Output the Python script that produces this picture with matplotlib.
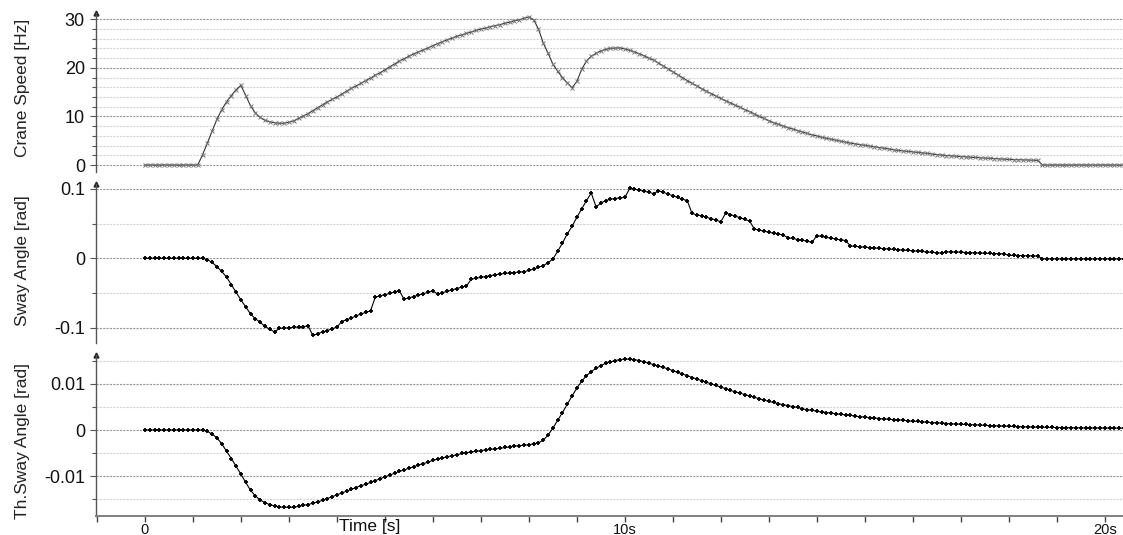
import numpy as np
import matplotlib
matplotlib.use("Agg")
import matplotlib.pyplot as plt
from matplotlib.ticker import MultipleLocator, FixedLocator, FuncFormatter

plt.rcParams["font.family"] = ["Liberation Sans", "DejaVu Sans"]

# sample step of the logged signals [s]
dt = 0.1

# Crane Speed [Hz], one row per second
crane_speed = [
    0, 0, 0, 0, 0, 0, 0, 0, 0, 0,
    0, 0, 2.1, 4.5, 7.0, 9.4, 11.4, 13.0, 14.3, 15.5,
    16.4, 14.3, 12.2, 10.7, 9.8, 9.2, 8.9, 8.7, 8.6, 8.6,
    8.8, 9.1, 9.6, 10.1, 10.6, 11.2, 11.8, 12.4, 13.0, 13.5,
    14.0, 14.6, 15.2, 15.8, 16.3, 16.8, 17.4, 17.9, 18.5, 19.0,
    19.6, 20.2, 20.8, 21.4, 21.9, 22.4, 22.9, 23.3, 23.7, 24.1,
    24.6, 25.0, 25.4, 25.8, 26.1, 26.5, 26.8, 27.1, 27.4, 27.7,
    28.0, 28.2, 28.5, 28.7, 28.9, 29.2, 29.4, 29.7, 29.9, 30.2,
    30.5, 29.9, 28.0, 25.1, 23.0, 20.8, 19.3, 18.0, 16.9, 15.9,
    17.2, 19.7, 21.4, 22.4, 23.0, 23.5, 23.8, 24.0, 24.1, 24.1,
    23.9, 23.6, 23.3, 22.9, 22.5, 22.0, 21.6, 21.0, 20.4, 19.8,
    19.2, 18.6, 18.0, 17.4, 16.8, 16.3, 15.7, 15.2, 14.7, 14.2,
    13.7, 13.2, 12.8, 12.3, 11.9, 11.4, 11.0, 10.5, 10.0, 9.6,
    9.1, 8.7, 8.4, 8.0, 7.7, 7.4, 7.1, 6.8, 6.5, 6.2,
    6.0, 5.7, 5.5, 5.3, 5.1, 4.9, 4.7, 4.5, 4.35, 4.2,
    4.05, 3.9, 3.75, 3.6, 3.45, 3.3, 3.15, 3.0, 2.9, 2.8,
    2.7, 2.6, 2.5, 2.4, 2.25, 2.15, 2.05, 1.95, 1.9, 1.8,
    1.75, 1.68, 1.6, 1.55, 1.5, 1.45, 1.38, 1.32, 1.26, 1.2,
    1.15, 1.12, 1.08, 1.05, 1.02, 0.99, 0.96, 0, 0, 0,
    0, 0, 0, 0, 0, 0, 0, 0, 0, 0,
    0, 0, 0, 0, 0,
]

# Sway Angle [mrad]
sway_mrad = [
    0, 0, 0, 0, 0, 0, 0, 0, 0, 0,
    0, 0, 0, -2, -6, -12, -19, -27, -38, -49,
    -60, -70, -80, -87, -92, -98, -102, -106, -101, -100.5,
    -100, -99.5, -99, -98.2, -97.4, -111, -108.5, -106, -104, -101.5,
    -99, -91, -88.5, -86, -83, -80, -78, -75.5, -56, -54,
    -52.5, -50.5, -48.5, -46.5, -59, -57, -55, -53, -51, -49,
    -47, -51.5, -49.5, -47.5, -45.5, -43.5, -41.5, -39.8, -30, -28.7,
    -27.5, -26.3, -25, -23.8, -22.6, -21.8, -21, -20.5, -19.8, -19.3,
    -17.5, -15.5, -13, -10.5, -6.5, -1, 10, 22, 35, 46,
    59, 71, 83, 94, 74, 79.5, 83, 85, 86, 87,
    87.5, 100.5, 99.5, 98, 96.5, 95, 93, 97, 95, 92.5,
    90, 87.5, 85, 83, 64.5, 62.5, 61, 59, 57, 55,
    52.5, 65, 63, 60.5, 58.5, 56, 53.5, 42, 40.5, 39,
    37.5, 36, 35, 33.5, 29.5, 28.5, 27, 26, 24.5, 23,
    32.5, 31.5, 30, 29, 27.5, 26.5, 25.5, 17.7, 17.1, 16.5,
    15.9, 15.3, 14.8, 14.3, 13.8, 13.3, 12.8, 12.3, 11.8, 11.3,
    10.8, 10.3, 9.8, 9.0, 8.5, 8.0, 7.5, 9.5, 9.2, 8.9,
    8.6, 8.3, 8.0, 7.8, 7.5, 7.2, 7.0, 6.7, 6.5, 6.3,
    4.3, 4.1, 3.9, 3.7, 3.5, 3.4, 3.3, -0.8, -0.8, -0.8,
    -0.8, -0.8, -0.8, -0.8, -0.8, -0.8, -0.8, -0.8, -0.8, -0.8,
    -0.8, -0.8, -0.8, -0.8, -0.8,
]

# Th. Sway Angle [mrad]
th_sway_mrad = [
    0, 0, 0, 0, 0, 0, 0, 0, 0, 0,
    0, 0, 0, -0.3, -0.9, -1.7, -3.0, -4.6, -6.2, -7.9,
    -9.6, -11.4, -13.1, -14.3, -15.2, -15.8, -16.2, -16.5, -16.7, -16.8,
    -16.8, -16.8, -16.6, -16.4, -16.2, -15.9, -15.6, -15.3, -14.9, -14.5,
    -14.1, -13.7, -13.3, -12.9, -12.5, -12.1, -11.8, -11.4, -11.0, -10.6,
    -10.2, -9.8, -9.4, -9.0, -8.7, -8.3, -8.0, -7.6, -7.3, -7.0,
    -6.6, -6.3, -6.1, -5.8, -5.6, -5.4, -5.1, -4.9, -4.8, -4.6,
    -4.5, -4.3, -4.2, -4.1, -4.0, -3.8, -3.7, -3.5, -3.4, -3.3,
    -3.2, -3.0, -2.8, -2.2, -1.1, 0.4, 2.1, 3.8, 5.6, 7.4,
    9.1, 10.6, 11.8, 12.7, 13.4, 14.0, 14.5, 14.8, 15.1, 15.3,
    15.4, 15.4, 15.3, 15.1, 14.8, 14.5, 14.2, 13.9, 13.6, 13.3,
    12.9, 12.5, 12.2, 11.8, 11.4, 11.1, 10.7, 10.4, 10.0, 9.7,
    9.3, 9.0, 8.6, 8.3, 8.0, 7.7, 7.4, 7.1, 6.8, 6.5,
    6.2, 6.0, 5.7, 5.5, 5.3, 5.1, 4.9, 4.6, 4.4, 4.3,
    4.1, 3.9, 3.8, 3.7, 3.5, 3.4, 3.3, 3.2, 3.0, 2.9,
    2.8, 2.7, 2.6, 2.5, 2.4, 2.35, 2.25, 2.2, 2.1, 2.0,
    1.9, 1.85, 1.75, 1.7, 1.6, 1.55, 1.5, 1.4, 1.35, 1.3,
    1.25, 1.2, 1.15, 1.1, 1.05, 1.0, 0.95, 0.92, 0.88, 0.85,
    0.8, 0.77, 0.74, 0.7, 0.67, 0.64, 0.62, 0.6, 0.58, 0.56,
    0.54, 0.52, 0.5, 0.5, 0.48, 0.47, 0.46, 0.45, 0.44, 0.43,
    0.42, 0.41, 0.4, 0.4, 0.39,
]

x_tick_labels = {0: "0", 10: "10s", 20: "20s"}

y_labels = ["Crane Speed [Hz]", "Sway Angle [rad]", "Th.Sway Angle [rad]"]


def time_of(values):
    return np.arange(len(values)) * dt


W, H = 1123, 535
fig = plt.figure(figsize=(W / 100, H / 100), dpi=100)

left = 96 / W
# (top px, bottom px) of each panel
rows = [(13, 172), (184, 343), (355, 515.6)]
axes = []
for top, bot in rows:
    ax = fig.add_axes([left, 1 - bot / H, 1 - left, (bot - top) / H])
    axes.append(ax)

ax1, ax2, ax3 = axes

ax1.plot(time_of(crane_speed), crane_speed, color="#333333", lw=0.8,
         marker="x", ms=2.6, mew=0.7, mec="#777777")
ax2.plot(time_of(sway_mrad), np.array(sway_mrad) / 1000, color="black", lw=0.8,
         marker="+", ms=3.2, mew=1.3)
ax3.plot(time_of(th_sway_mrad), np.array(th_sway_mrad) / 1000, color="black", lw=0.8,
         marker="+", ms=3.2, mew=1.3)

ax1.set_ylim(-1.44, 31.3)
ax1.yaxis.set_major_locator(MultipleLocator(10))
ax1.yaxis.set_minor_locator(MultipleLocator(2))
ax1.yaxis.set_major_formatter(FuncFormatter(lambda v, p: f"{v:g}"))

ax2.set_ylim(-0.1219, 0.1069)
ax2.yaxis.set_major_locator(FixedLocator([-0.1, 0, 0.1]))
ax2.yaxis.set_minor_locator(FixedLocator([-0.05, 0.05]))
ax2.yaxis.set_major_formatter(FuncFormatter(lambda v, p: f"{v:g}"))

ax3.set_ylim(-0.0186, 0.0163)
ax3.yaxis.set_major_locator(FixedLocator([-0.01, 0, 0.01]))
ax3.yaxis.set_minor_locator(FixedLocator([-0.015, -0.005, 0.005, 0.015]))
ax3.yaxis.set_major_formatter(FuncFormatter(lambda v, p: f"{round(v, 3):g}"))

for ax in axes:
    ax.set_xlim(-1.02, 20.38)
    ax.set_facecolor("white")
    for s in ["top", "right"]:
        ax.spines[s].set_visible(False)
    ax.spines["left"].set_color("#555555")
    ax.spines["left"].set_linewidth(1.0)
    ax.grid(axis="y", which="major", color="#999999", ls=(0, (2, 1)), lw=0.8)
    ax.grid(axis="y", which="minor", color="#d4d4d4", ls=(0, (2, 1)), lw=0.8)
    ax.grid(axis="x", visible=False)
    ax.set_axisbelow(True)
    ax.tick_params(axis="y", which="both", direction="out", length=4, width=0.8,
                   color="#555555", labelsize=13, pad=4, labelcolor="#111111")
    ax.tick_params(axis="y", which="minor", length=3)
    # small arrow head on top of the value axis
    ax.plot(0, 1, marker="^", color="#222222", ms=3.5, transform=ax.transAxes,
            clip_on=False)

for ax in (ax1, ax2):
    ax.spines["bottom"].set_visible(False)
    ax.tick_params(axis="x", which="both", bottom=False, labelbottom=False)

ax3.spines["bottom"].set_color("#808080")
ax3.spines["bottom"].set_linewidth(1.4)
ticks = np.arange(-1, 21)
ax3.set_xticks(ticks)
ax3.set_xticklabels([x_tick_labels.get(int(t), "") for t in ticks])
ax3.tick_params(axis="x", direction="out", length=4, width=1.0, color="#444444",
                labelsize=10.5, pad=1, labelcolor="#111111")

label_y = [88, 261, 441]
for text, yp in zip(y_labels, label_y):
    fig.text(23 / W, 1 - yp / H, text, rotation=90, ha="center", va="center",
             fontsize=12.5, color="#222222")

fig.text(370 / W, 1 - 519 / H, "Time [s]", ha="center", va="top",
         fontsize=12.5, color="#111111")

fig.savefig("out.png", dpi=100, facecolor="white")
